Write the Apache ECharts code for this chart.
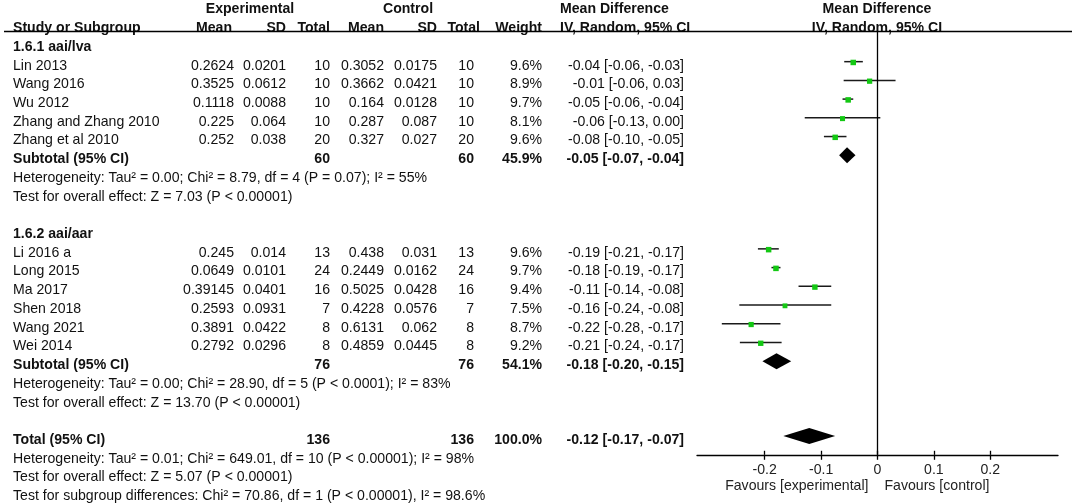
<!DOCTYPE html>
<html>
<head>
<meta charset="utf-8">
<script src="https://cdn.jsdelivr.net/npm/echarts@6/dist/echarts.min.js"></script>
<style>
  html, body { margin: 0; padding: 0; background: #fff; }
  #chart { width: 1072px; height: 503px; }
</style>
</head>
<body>
<div id="chart"></div>
<script>
// ---- subgroup 1.6.1 aai/lva ----
const studies1 = ['Lin 2013', 'Wang 2016', 'Wu 2012', 'Zhang and Zhang 2010', 'Zhang et al 2010'];
const expMean1 = [0.2624, 0.3525, 0.1118, 0.225, 0.252];
const expSD1 = [0.0201, 0.0612, 0.0088, 0.064, 0.038];
const expN1 = [10, 10, 10, 10, 20];
const ctlMean1 = [0.3052, 0.3662, 0.164, 0.287, 0.327];
const ctlSD1 = [0.0175, 0.0421, 0.0128, 0.087, 0.027];
const ctlN1 = [10, 10, 10, 10, 20];
const weight1 = [9.6, 8.9, 9.7, 8.1, 9.6];
const ciText1 = ['-0.04 [-0.06, -0.03]', '-0.01 [-0.06, 0.03]', '-0.05 [-0.06, -0.04]', '-0.06 [-0.13, 0.00]', '-0.08 [-0.10, -0.05]'];
const md1 = [-0.043, -0.014, -0.052, -0.062, -0.075];
const lo1 = [-0.059, -0.060, -0.062, -0.129, -0.095];
const hi1 = [-0.026, 0.032, -0.043, 0.005, -0.055];

// ---- subgroup 1.6.2 aai/aar ----
const studies2 = ['Li 2016 a', 'Long 2015', 'Ma 2017', 'Shen 2018', 'Wang 2021', 'Wei 2014'];
const expMean2 = [0.245, 0.0649, 0.39145, 0.2593, 0.3891, 0.2792];
const expSD2 = [0.014, 0.0101, 0.0401, 0.0931, 0.0422, 0.0296];
const expN2 = [13, 24, 16, 7, 8, 8];
const ctlMean2 = [0.438, 0.2449, 0.5025, 0.4228, 0.6131, 0.4859];
const ctlSD2 = [0.031, 0.0162, 0.0428, 0.0576, 0.062, 0.0445];
const ctlN2 = [13, 24, 16, 7, 8, 8];
const weight2 = [9.6, 9.7, 9.4, 7.5, 8.7, 9.2];
const ciText2 = ['-0.19 [-0.21, -0.17]', '-0.18 [-0.19, -0.17]', '-0.11 [-0.14, -0.08]', '-0.16 [-0.24, -0.08]', '-0.22 [-0.28, -0.17]', '-0.21 [-0.24, -0.17]'];
const md2 = [-0.193, -0.180, -0.111, -0.164, -0.224, -0.207];
const lo2 = [-0.212, -0.188, -0.140, -0.245, -0.276, -0.244];
const hi2 = [-0.175, -0.172, -0.082, -0.082, -0.172, -0.170];

// ---- subtotals, total ----
const groupTitles = ['1.6.1 aai/lva', '1.6.2 aai/aar'];
const subExpN = [60, 76];
const subCtlN = [60, 76];
const subWeight = [45.9, 54.1];
const subText = ['-0.05 [-0.07, -0.04]', '-0.18 [-0.20, -0.15]'];
const subMd = [-0.054, -0.179];
const subLo = [-0.068, -0.204];
const subHi = [-0.039, -0.153];
const hetText = [
  'Heterogeneity: Tau\u00b2 = 0.00; Chi\u00b2 = 8.79, df = 4 (P = 0.07); I\u00b2 = 55%',
  'Heterogeneity: Tau\u00b2 = 0.00; Chi\u00b2 = 28.90, df = 5 (P < 0.0001); I\u00b2 = 83%'
];
const effectText = ['Test for overall effect: Z = 7.03 (P < 0.00001)', 'Test for overall effect: Z = 13.70 (P < 0.00001)'];

const totalExpN = 136, totalCtlN = 136, totalWeight = 100.0;
const totalText = '-0.12 [-0.17, -0.07]';
const totalMd = -0.121, totalLo = -0.167, totalHi = -0.075;
const footerText = [
  'Heterogeneity: Tau\u00b2 = 0.01; Chi\u00b2 = 649.01, df = 10 (P < 0.00001); I\u00b2 = 98%',
  'Test for overall effect: Z = 5.07 (P < 0.00001)',
  'Test for subgroup differences: Chi\u00b2 = 70.86, df = 1 (P < 0.00001), I\u00b2 = 98.6%'
];

const tickValues = [-0.2, -0.1, 0, 0.1, 0.2];
const tickLabels = ['-0.2', '-0.1', '0', '0.1', '0.2'];
const favourLabels = ['Favours [experimental]', 'Favours [control]'];

// ---- layout ----
const ROW0 = 5.5, PITCH = 18.72;   // pixel y of row 0, row pitch
const FONT = 'Liberation Sans, Arial, sans-serif';
const FS = 14.1;
const col = { name: 13, expMean: 234, expSD: 286, expN: 330, ctlMean: 384, ctlSD: 437, ctlN: 474, weight: 542, ci: 684 };

const groups = [
  { title: groupTitles[0], start: 2, names: studies1, em: expMean1, es: expSD1, en: expN1, cm: ctlMean1, cs: ctlSD1, cn: ctlN1, w: weight1, ci: ciText1, md: md1, lo: lo1, hi: hi1 },
  { title: groupTitles[1], start: 12, names: studies2, em: expMean2, es: expSD2, en: expN2, cm: ctlMean2, cs: ctlSD2, cn: ctlN2, w: weight2, ci: ciText2, md: md2, lo: lo2, hi: hi2 }
];

const texts = [];   // [x, row, text, align, bold]
function t(x, row, s, align, bold) { texts.push([x, row, String(s), align || 'right', bold ? 1 : 0]); }

// headers
t(250, 0, 'Experimental', 'center', 1);
t(408, 0, 'Control', 'center', 1);
t(560, 0, 'Mean Difference', 'left', 1);
t(877, 0, 'Mean Difference', 'center', 1);
t(col.name, 1, 'Study or Subgroup', 'left', 1);
t(232, 1, 'Mean', 'right', 1);
t(col.expSD, 1, 'SD', 'right', 1);
t(col.expN, 1, 'Total', 'right', 1);
t(col.ctlMean, 1, 'Mean', 'right', 1);
t(col.ctlSD, 1, 'SD', 'right', 1);
t(480, 1, 'Total', 'right', 1);
t(col.weight, 1, 'Weight', 'right', 1);
t(560, 1, 'IV, Random, 95% CI', 'left', 1);
t(877, 1, 'IV, Random, 95% CI', 'center', 1);

const studyPts = [];   // [row, md, lo, hi, weight]
const diamonds = [];   // [row, md, lo, hi]

groups.forEach((g, gi) => {
  t(col.name, g.start, g.title, 'left', 1);
  g.names.forEach((n, i) => {
    const r = g.start + 1 + i;
    t(col.name, r, n, 'left');
    t(col.expMean, r, g.em[i]);
    t(col.expSD, r, g.es[i]);
    t(col.expN, r, g.en[i]);
    t(col.ctlMean, r, g.cm[i]);
    t(col.ctlSD, r, g.cs[i]);
    t(col.ctlN, r, g.cn[i]);
    t(col.weight, r, g.w[i].toFixed(1) + '%');
    t(col.ci, r, g.ci[i]);
    studyPts.push([r, g.md[i], g.lo[i], g.hi[i], g.w[i]]);
  });
  const sr = g.start + 1 + g.names.length;
  t(col.name, sr, 'Subtotal (95% CI)', 'left', 1);
  t(col.expN, sr, subExpN[gi], 'right', 1);
  t(col.ctlN, sr, subCtlN[gi], 'right', 1);
  t(col.weight, sr, subWeight[gi].toFixed(1) + '%', 'right', 1);
  t(col.ci, sr, subText[gi], 'right', 1);
  diamonds.push([sr, subMd[gi], subLo[gi], subHi[gi]]);
  t(col.name, sr + 1, hetText[gi], 'left');
  t(col.name, sr + 2, effectText[gi], 'left');
});

const totalRow = 23;
t(col.name, totalRow, 'Total (95% CI)', 'left', 1);
t(col.expN, totalRow, totalExpN, 'right', 1);
t(col.ctlN, totalRow, totalCtlN, 'right', 1);
t(col.weight, totalRow, totalWeight.toFixed(1) + '%', 'right', 1);
t(col.ci, totalRow, totalText, 'right', 1);
diamonds.push([totalRow, totalMd, totalLo, totalHi]);
footerText.forEach((s, i) => t(col.name, totalRow + 1 + i, s, 'left'));

// forest grid spans from the header rule (row 1.4) to the axis (row 24)
const fMin = 1.4, fMax = 24;
const fTop = ROW0 + fMin * PITCH;
const fH = (fMax - fMin) * PITCH;
const tMax = 26;
const tH = tMax * PITCH;

const chart = echarts.init(document.getElementById('chart'), null, { renderer: 'canvas' });

const option = {
  backgroundColor: '#fff',
  animation: false,
  textStyle: { fontFamily: FONT },
  grid: [
    { left: 697, right: 14, top: fTop, bottom: 503 - fTop - fH },
    { left: 0, right: 0, top: ROW0, bottom: 503 - ROW0 - tH }
  ],
  xAxis: [
    {
      gridIndex: 0, type: 'value', min: -0.32, max: 0.32, position: 'bottom',
      axisLine: { show: true, onZero: false, lineStyle: { color: '#000', width: 1.3 } },
      axisTick: { show: true, customValues: tickValues, length: 5, lineStyle: { color: '#000', width: 1.3 } },
      axisLabel: {
        show: true, customValues: tickValues, margin: 8,
        color: '#222', fontSize: FS, fontFamily: FONT,
        formatter: v => tickLabels[tickValues.findIndex(x => Math.abs(x - v) < 1e-9)] || ''
      },
      splitLine: { show: false }
    },
    {
      gridIndex: 0, type: 'value', min: -0.32, max: 0.32, position: 'bottom',
      axisLine: { show: false },
      axisTick: { show: true, inside: true, customValues: tickValues, length: 4, lineStyle: { color: '#000', width: 1.3 } },
      axisLabel: { show: false },
      splitLine: { show: false }
    },
    { gridIndex: 1, type: 'value', min: 0, max: 1072, show: false }
  ],
  yAxis: [
    { gridIndex: 0, type: 'value', inverse: true, min: fMin, max: fMax, show: false },
    { gridIndex: 1, type: 'value', inverse: true, min: 0, max: tMax, show: false }
  ],
  series: [
    // table text
    {
      type: 'custom', xAxisIndex: 2, yAxisIndex: 1, silent: true, clip: false,
      data: texts,
      encode: { x: 0, y: 1 },
      renderItem: (params, api) => {
        const d = texts[params.dataIndex];
        const p = api.coord([d[0], d[1]]);
        return {
          type: 'text', x: p[0], y: p[1] + 4,
          style: {
            text: d[2], align: d[3], verticalAlign: 'middle', fill: '#111',
            font: (d[4] ? 'bold ' : '') + FS + 'px ' + FONT
          }
        };
      },
      markLine: {
        silent: true, symbol: 'none', animation: false,
        label: { show: false },
        lineStyle: { color: '#000', width: 1.3, type: 'solid' },
        data: [[{ coord: [4, fMin] }, { coord: [1072, fMin] }]]
      }
    },
    // study CIs and squares
    {
      type: 'custom', xAxisIndex: 0, yAxisIndex: 0, silent: true, clip: false,
      data: studyPts,
      encode: { x: [1, 2, 3], y: 0 },
      renderItem: (params, api) => {
        const row = api.value(0);
        const c = api.coord([api.value(1), row]);
        const a = api.coord([api.value(2), row]);
        const b = api.coord([api.value(3), row]);
        const s = 2.6 + api.value(4) * 0.3;
        return {
          type: 'group',
          children: [
            { type: 'line', shape: { x1: a[0], y1: a[1], x2: b[0], y2: b[1] }, style: { stroke: '#1a1a1a', lineWidth: 1.5 } },
            { type: 'rect', shape: { x: c[0] - s / 2, y: c[1] - s / 2 + 0.8, width: s, height: s }, style: { fill: '#13c813' } }
          ]
        };
      },
      markLine: {
        silent: true, symbol: 'none', animation: false,
        label: { show: false },
        lineStyle: { color: '#000', width: 1.3, type: 'solid' },
        data: [{ xAxis: 0 }]
      }
    },
    // pooled diamonds
    {
      type: 'custom', xAxisIndex: 0, yAxisIndex: 0, silent: true, clip: false,
      data: diamonds,
      encode: { x: [1, 2, 3], y: 0 },
      renderItem: (params, api) => {
        const row = api.value(0);
        const c = api.coord([api.value(1), row]);
        const a = api.coord([api.value(2), row]);
        const b = api.coord([api.value(3), row]);
        const h = 8;
        return {
          type: 'polygon',
          shape: { points: [[a[0], a[1]], [c[0], c[1] - h], [b[0], b[1]], [c[0], c[1] + h]] },
          style: { fill: '#000' }
        };
      }
    }
  ]
};

chart.setOption(option);

// favours labels either side of the zero line
const zx = chart.convertToPixel({ xAxisIndex: 0 }, 0);
chart.setOption({
  graphic: [
    { type: 'text', x: zx - 9, y: 486, style: { text: favourLabels[0], align: 'right', verticalAlign: 'middle', fill: '#222', font: FS + 'px ' + FONT } },
    { type: 'text', x: zx + 7, y: 486, style: { text: favourLabels[1], align: 'left', verticalAlign: 'middle', fill: '#222', font: FS + 'px ' + FONT } }
  ]
});
</script>
</body>
</html>
